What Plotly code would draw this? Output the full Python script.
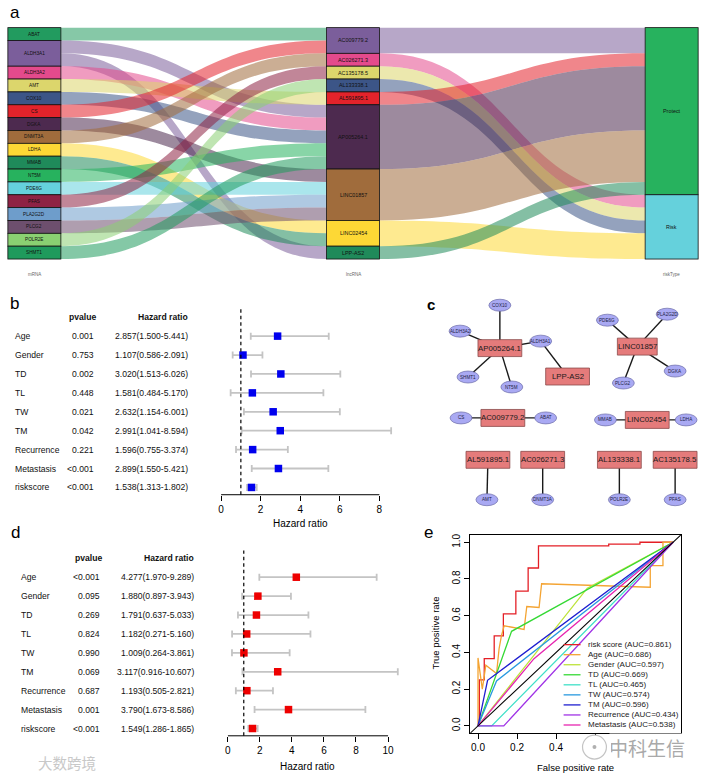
import plotly.graph_objects as go

W, H = 705, 778
FONT = "Liberation Sans, Arial, sans-serif"

# ------------------------------------------------------------------ data
# panel a / c : mRNA - lncRNA pairs and lncRNA risk type
mrna_names = ["ABAT", "ALDH3A1", "ALDH3A2", "AMT", "COX10", "CS", "DGKA", "DNMT3A", "LDHA",
              "MMAB", "NT5M", "PDE6G", "PFAS", "PLA2G2D", "PLCG2", "POLR2E", "SHMT1"]
mrna_colors = ["#229b5f", "#7b5e9b", "#e44a8c", "#dcd66c", "#3c5587", "#e3232b", "#4d2a4f", "#a06c3c",
               "#fdd835", "#1f8a5a", "#27b25e", "#65d1dc", "#8e2244", "#6e9dcb", "#6d4f6e", "#8ad072", "#1f9a5c"]
lnc_names = ["AC009779.2", "AC026271.3", "AC135178.5", "AL133338.1", "AL591895.1", "AP005264.1",
             "LINC01857", "LINC02454", "LPP-AS2"]
lnc_colors = ["#7b5e9b", "#e44a8c", "#dcd66c", "#3c5587", "#e3232b", "#4d2a4f", "#a06c3c", "#fdd835", "#1f8a5a"]
lnc_risk = ["Protect", "Risk", "Risk", "Risk", "Protect", "Protect", "Protect", "Risk", "Protect"]
risk_names = ["Protect", "Risk"]
risk_colors = ["#27b25e", "#65d1dc"]
pair_mrna = ["ABAT", "ALDH3A1", "ALDH3A1", "ALDH3A2", "AMT", "COX10", "CS", "DGKA", "DNMT3A", "LDHA",
             "MMAB", "NT5M", "PDE6G", "PFAS", "PLA2G2D", "PLCG2", "POLR2E", "SHMT1"]
pair_lnc = ["AC009779.2", "AP005264.1", "LPP-AS2", "AP005264.1", "AL591895.1", "AP005264.1", "AC009779.2",
            "LINC01857", "AC026271.3", "LINC02454", "LINC02454", "AP005264.1", "LINC01857", "AC135178.5",
            "LINC01857", "LINC01857", "AL133338.1", "AP005264.1"]
axis_names = ["mRNA", "lncRNA", "riskType"]

# panel b : univariate cox
cox_labels = ["Age", "Gender", "TD", "TL", "TW", "TM", "Recurrence", "Metastasis", "riskscore"]
uni_p = ["0.001", "0.753", "0.002", "0.448", "0.021", "0.042", "0.221", "<0.001", "<0.001"]
uni_hr = [2.857, 1.107, 3.020, 1.581, 2.632, 2.991, 1.596, 2.899, 1.538]
uni_lo = [1.500, 0.586, 1.513, 0.484, 1.154, 1.041, 0.755, 1.550, 1.313]
uni_hi = [5.441, 2.091, 6.026, 5.170, 6.001, 8.594, 3.374, 5.421, 1.802]
uni_ticks = [0, 2, 4, 6, 8]

# panel d : multivariate cox
multi_p = ["<0.001", "0.095", "0.269", "0.824", "0.990", "0.069", "0.687", "0.001", "<0.001"]
multi_hr = [4.277, 1.880, 1.791, 1.182, 1.009, 3.117, 1.193, 3.790, 1.549]
multi_lo = [1.970, 0.897, 0.637, 0.271, 0.264, 0.916, 0.505, 1.673, 1.286]
multi_hi = [9.289, 3.943, 5.033, 5.160, 3.861, 10.607, 2.821, 8.586, 1.865]
multi_ticks = [0, 2, 4, 6, 8, 10]

# panel e : ROC curves
roc_names = ["risk score", "Age", "Gender", "TD", "TL", "TW", "TM", "Recurrence", "Metastasis"]
roc_auc = ["0.861", "0.686", "0.597", "0.669", "0.465", "0.574", "0.596", "0.434", "0.538"]
roc_colors = ["#e41f26", "#f4a433", "#bde33a", "#35d935", "#3fe0c8", "#2a9ae0", "#1f1fd0", "#a033e6", "#e626b0"]
roc_x = [
    [0, 0.007, 0.007, 0.032, 0.032, 0.083, 0.083, 0.13, 0.13, 0.194, 0.194, 0.257, 0.257, 0.31, 0.31, 0.67, 0.67, 0.83, 0.83, 1.0],
    [0, 0, 0.022, 0.04, 0.095, 0.108, 0.12, 0.134, 0.236, 0.25, 0.313, 0.326, 0.883, 0.883, 0.948, 0.948, 1.0],
    [0, 0.56, 1.0],
    [0, 0.172, 1.0],
    [0, 0.07, 1.0],
    [0, 0.095, 1.0],
    [0, 0.049, 1.0],
    [0, 0.132, 1.0],
    [0, 0.287, 1.0],
]
roc_y = [
    [0, 0, 0.25, 0.25, 0.366, 0.366, 0.49, 0.49, 0.61, 0.61, 0.734, 0.734, 0.86, 0.86, 0.98, 0.98, 0.99, 0.99, 1.0, 1.0],
    [0, 0.37, 0.20, 0.33, 0.285, 0.42, 0.49, 0.545, 0.525, 0.65, 0.645, 0.774, 0.755, 0.873, 0.873, 1.0, 1.0],
    [0, 0.75, 1.0],
    [0, 0.515, 1.0],
    [0, 0, 1.0],
    [0, 0.245, 1.0],
    [0, 0.248, 1.0],
    [0, 0, 1.0],
    [0, 0.366, 1.0],
]
roc_ticks = [0, 0.2, 0.4, 0.6, 0.8, 1.0]

# panel c : network layout (pixel positions of nodes)
net_lnc_pos = {"AP005264.1": (499, 347), "LPP-AS2": (567, 375.5), "LINC01857": (637, 345.5),
               "AC009779.2": (502, 417), "LINC02454": (647, 419), "AL591895.1": (487, 459),
               "AC026271.3": (542, 459), "AL133338.1": (619, 459), "AC135178.5": (675, 459)}
net_gene_pos = {"COX10": (499, 304), "ALDH3A2": (459, 330), "ALDH3A1": (540, 340), "SHMT1": (467, 376),
                "NT5M": (511, 386), "PDE6G": (607, 319), "PLA2G2D": (667, 313), "DGKA": (675, 370),
                "PLCG2": (623, 382), "CS": (460, 417), "ABAT": (545, 417), "MMAB": (605, 419),
                "LDHA": (686, 419), "AMT": (486, 499), "DNMT3A": (542, 499), "POLR2E": (619, 499),
                "PFAS": (675, 499)}


# ------------------------------------------------------------------ helpers
def px(x):
    return x / W


def py(y):
    return 1 - y / H


def rgba(h, a):
    h = h.lstrip("#")
    return "rgba(%d,%d,%d,%s)" % (int(h[0:2], 16), int(h[2:4], 16), int(h[4:6], 16), a)


def note(x, y, text, size, color="black", xanchor="center", family=FONT, **kw):
    d = dict(x=x, y=y, xref=kw.pop("xref", "paper"), yref=kw.pop("yref", "paper"), text=text,
             showarrow=False, xanchor=xanchor, yanchor="middle",
             font=dict(size=size, color=color, family=family))
    d.update(kw)
    return d


fig = go.Figure()
ann = []
shapes = []

# ------------------------------------------------------------------ panel a (alluvial)
SX0, SX1, SY0, SY1, THICK = 5, 698, 25.7, 257.7, 53
nodes = mrna_names + lnc_names + risk_names
node_colors = mrna_colors + lnc_colors + risk_colors
idx = {n: i for i, n in enumerate(nodes)}
total = len(pair_mrna)

src, tgt, val, lcol = [], [], [], []
for m, l in zip(pair_mrna, pair_lnc):
    src.append(idx[m]); tgt.append(idx[l]); val.append(1)
    lcol.append(rgba(mrna_colors[mrna_names.index(m)], 0.55))
for l, r, c in zip(lnc_names, lnc_risk, lnc_colors):
    src.append(idx[l]); tgt.append(idx[r]); val.append(pair_lnc.count(l))
    lcol.append(rgba(c, 0.55))

col_vals = [
    [pair_mrna.count(m) for m in mrna_names],
    [pair_lnc.count(l) for l in lnc_names],
    [sum(pair_lnc.count(l) for l, rr in zip(lnc_names, lnc_risk) if rr == r) for r in risk_names],
]
fx_half = (THICK / 2) / (SX1 - SX0)
col_fx = [fx_half, 0.5, 1 - fx_half]
col_names = [mrna_names, lnc_names, risk_names]
col_fonts = [4.7, 5.4, 5.4]
node_x, node_y = [], []
for ci, vals in enumerate(col_vals):
    cum = 0
    cx = px(SX0 + col_fx[ci] * (SX1 - SX0))
    for nm, v in zip(col_names[ci], vals):
        fy = (cum + v / 2) / total
        node_x.append(col_fx[ci]); node_y.append(fy)
        ann.append(note(cx, py(SY0 + fy * (SY1 - SY0)), nm, col_fonts[ci], "#111111"))
        cum += v
    ann.append(note(cx, py(273), axis_names[ci], 4.5, "#666666"))

fig.add_trace(go.Sankey(
    domain=dict(x=[px(SX0), px(SX1)], y=[py(SY1), py(SY0)]),
    arrangement="fixed",
    node=dict(label=[""] * len(nodes), color=node_colors, pad=0, thickness=THICK,
              line=dict(color="#111111", width=0.8), x=node_x, y=node_y,
              customdata=nodes, hovertemplate="%{customdata}<extra></extra>"),
    link=dict(source=src, target=tgt, value=val, color=lcol),
))


# ------------------------------------------------------------------ forest plots (b, d)
def forest(ax, labels, pvals, hr, lo, hi, ticks, color, zero_px, ppu, xmax, top_px, axis_px,
           row0_px, step, lab_x, p_x, hr_x, head_p_x, xtitle_y):
    xa = "x" if ax == 1 else "x%d" % ax
    ya = "y" if ax == 1 else "y%d" % ax
    n = len(labels)
    ys = list(range(n))
    fig.add_trace(go.Scatter(
        x=hr, y=ys, mode="markers", xaxis=xa, yaxis=ya, showlegend=False, cliponaxis=False,
        marker=dict(symbol="square", size=7.5, color=color, line=dict(width=0)),
        error_x=dict(type="data", symmetric=False, array=[h - m for h, m in zip(hi, hr)],
                     arrayminus=[m - l for m, l in zip(hr, lo)], color="#c4c4c4", thickness=1.8, width=3.5),
    ))
    lay = {}
    lay["xaxis" if ax == 1 else "xaxis%d" % ax] = dict(
        domain=[px(zero_px), px(zero_px + xmax * ppu)], range=[0, xmax], anchor=ya,
        tickvals=ticks, ticks="outside", ticklen=5, tickwidth=1, tickcolor="black",
        showline=False, zeroline=False, showgrid=False, tickfont=dict(size=10, family=FONT, color="black"))
    lay["yaxis" if ax == 1 else "yaxis%d" % ax] = dict(
        domain=[py(axis_px), py(top_px)], range=[(axis_px - row0_px) / step, (top_px - row0_px) / step],
        anchor=xa, showticklabels=False, ticks="", showline=False, zeroline=False, showgrid=False)
    fig.update_layout(**lay)
    shapes.append(dict(type="line", xref=xa, yref=ya + " domain", x0=ticks[0], x1=ticks[-1], y0=0, y1=0,
                       line=dict(color="black", width=1)))
    shapes.append(dict(type="line", xref=xa, yref=ya + " domain", x0=1, x1=1, y0=0, y1=1,
                       line=dict(color="black", width=1.2, dash="3.5px,3px")))
    for i in range(n):
        ann.append(note(px(lab_x), i, labels[i], 8.6, "#111111", "left", yref=ya))
        ann.append(note(px(p_x), i, pvals[i], 8.6, "#111111", "right", yref=ya))
        ann.append(note(px(hr_x), i, "%.3f(%.3f-%.3f)" % (hr[i], lo[i], hi[i]), 8.6, "#111111", "right",
                        yref=ya))
    ann.append(note(px(head_p_x), -1, "<b>pvalue</b>", 8.6, "#111111", "center", yref=ya))
    ann.append(note(px(hr_x + 0.5), -1, "<b>Hazard ratio</b>", 8.6, "#111111", "right", yref=ya))
    mid = (ticks[0] + ticks[-1]) / 2
    ann.append(note(mid, py(xtitle_y), "Hazard ratio", 10, xref=xa))


forest(1, cox_labels, uni_p, uni_hr, uni_lo, uni_hi, uni_ticks, "#0000ee", 219, 19.875, 8.7,
       308, 494, 335, 18.96, 10, 93.5, 187.5, 80, 523)
forest(2, cox_labels, multi_p, multi_hr, multi_lo, multi_hi, multi_ticks, "#ee0000", 225.7, 16.1, 10.75,
       550, 735.7, 576.7, 18.96, 16, 99, 193.5, 86, 766.5)

# ------------------------------------------------------------------ panel c (network)
CX0, CX1, CY0, CY1 = 420, 705, 290, 515
fig.update_layout(
    xaxis3=dict(domain=[px(CX0), px(CX1)], range=[CX0, CX1], anchor="y3", visible=False),
    yaxis3=dict(domain=[py(CY1), py(CY0)], range=[CY1, CY0], anchor="x3", visible=False),
)
ex, ey = [], []
for m, l in zip(pair_mrna, pair_lnc):
    (x0, y0), (x1, y1) = net_gene_pos[m], net_lnc_pos[l]
    ex += [x0, x1, None]; ey += [y0, y1, None]
fig.add_trace(go.Scatter(x=ex, y=ey, mode="lines", xaxis="x3", yaxis="y3", showlegend=False,
                         line=dict(color="#1a1a1a", width=1.4), hoverinfo="skip"))
for g, (x, y) in net_gene_pos.items():
    shapes.append(dict(type="circle", xref="x3", yref="y3", x0=x - 11, x1=x + 11, y0=y - 6, y1=y + 6,
                       fillcolor="#a9a9f3", line=dict(color="#6a6aa8", width=0.7)))
    ann.append(note(x, y, g, 4.6, "#222244", xref="x3", yref="y3"))
for l, (x, y) in net_lnc_pos.items():
    hw = 20 if l == "LINC01857" else 22
    shapes.append(dict(type="rect", xref="x3", yref="y3", x0=x - hw, x1=x + hw, y0=y - 8.5, y1=y + 8.5,
                       fillcolor="#e57b7b", line=dict(color="#8a4a4a", width=0.8)))
    ann.append(note(x, y, l, 7.8, "#1a1a1a", xref="x3", yref="y3"))

# ------------------------------------------------------------------ panel e (ROC)
EX0, EX1, EY0, EY1 = 469.2, 680.8, 534.3, 733.1
fig.update_layout(
    xaxis4=dict(domain=[px(EX0), px(EX1)], range=[-0.04, 1.04], anchor="y4", tickvals=roc_ticks,
                ticktext=["%.1f" % t for t in roc_ticks], ticks="outside", ticklen=5, tickcolor="black",
                showline=True, mirror=True, linecolor="black", linewidth=1, zeroline=False, showgrid=False,
                tickfont=dict(size=10, family=FONT, color="black")),
    yaxis4=dict(domain=[py(EY1), py(EY0)], range=[-0.04, 1.04], anchor="x4", tickvals=roc_ticks,
                ticktext=["%.1f" % t for t in roc_ticks], ticks="outside", ticklen=5, tickcolor="black",
                tickangle=-90, showline=True, mirror=True, linecolor="black", linewidth=1,
                zeroline=False, showgrid=False, tickfont=dict(size=10, family=FONT, color="black")),
)
shapes.append(dict(type="line", xref="x4", yref="y4", x0=-0.04, y0=-0.04, x1=1.04, y1=1.04,
                   line=dict(color="black", width=1.1)))
for nm, xs, ys, c in zip(roc_names, roc_x, roc_y, roc_colors):
    fig.add_trace(go.Scatter(x=xs, y=ys, mode="lines", xaxis="x4", yaxis="y4", name=nm, showlegend=False,
                             line=dict(color=c, width=1.3)))
# legend (drawn manually, bty = "n")
for i, (nm, a, c) in enumerate(zip(roc_names, roc_auc, roc_colors)):
    yy = 644.3 + i * 10.07
    shapes.append(dict(type="line", xref="paper", yref="paper", x0=px(563), x1=px(580), y0=py(yy), y1=py(yy),
                       line=dict(color=c, width=1.3)))
    ann.append(note(px(585), py(yy), "%s (AUC=%s)" % (nm, a), 8, "#222222", "left"))
ann.append(note(px(575), py(767), "False positive rate", 9.5))
ann.append(note(px(434), py(633), "True positive rate", 9.5, textangle=-90))

# watermarks
ann.append(note(px(648), py(747), "中科生信", 19, "#a9a9a9", family="Noto Sans CJK SC",
                width=74, height=24, align="right", bgcolor="white"))
shapes.append(dict(type="circle", xref="paper", yref="paper", x0=px(582), x1=px(606), y0=py(759), y1=py(735),
                   fillcolor="white", line=dict(color="#c4c4c4", width=1.2)))
shapes.append(dict(type="circle", xref="paper", yref="paper", x0=px(592), x1=px(596), y0=py(749), y1=py(745),
                   fillcolor="#b0b0b0", line=dict(width=0)))
ann.append(note(px(64), py(762), "大数跨境", 14.5, "#c8c8c8", family="Noto Sans CJK SC"))

# panel letters
for t, x, y, b in [("a", 12, 11, False), ("b", 12, 302, False), ("c", 430, 303, True),
                   ("d", 12.5, 532, False), ("e", 427, 532, False)]:
    ann.append(note(px(x), py(y), ("<b>%s</b>" % t) if b else t, 15 if b else 17))

fig.update_layout(width=W, height=H, margin=dict(l=0, r=0, t=0, b=0), paper_bgcolor="white",
                  plot_bgcolor="white", annotations=ann, shapes=shapes, showlegend=False,
                  font=dict(family=FONT))
fig.write_html("out.html", config={"displayModeBar": False},
               post_script="document.body.style.margin='0px';")
